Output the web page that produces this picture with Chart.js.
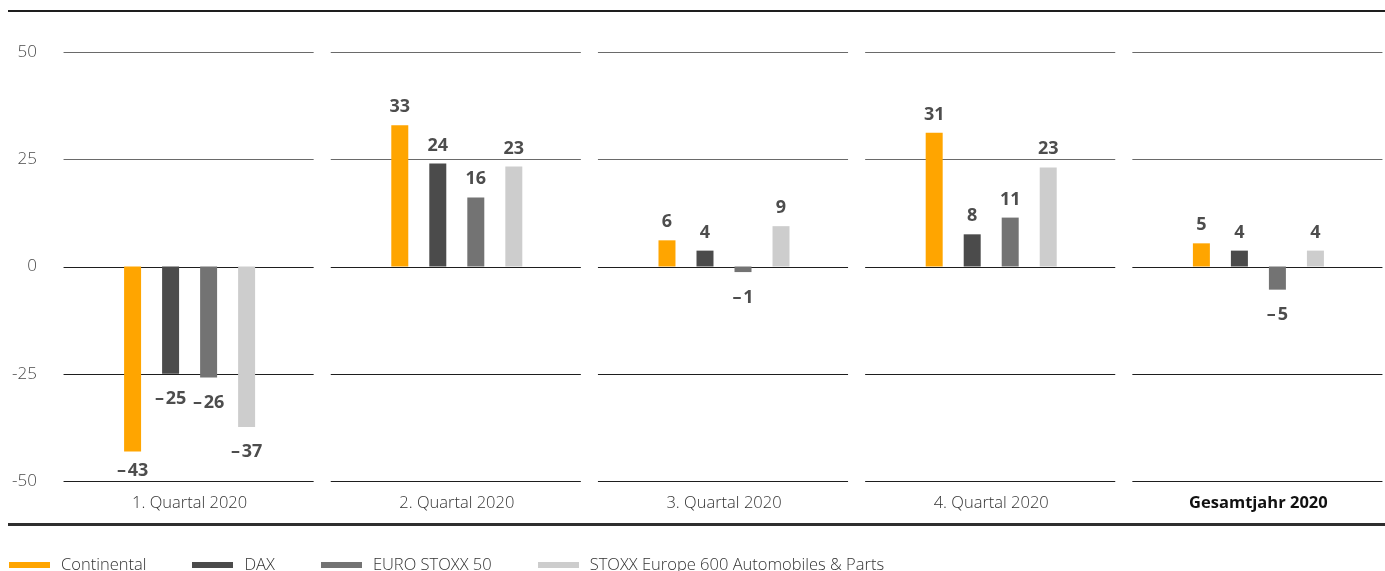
<!DOCTYPE html>
<html>
<head>
<meta charset="utf-8">
<script src="https://cdn.jsdelivr.net/npm/chart.js@4.4.1/dist/chart.umd.min.js"></script>
<style>
  html, body { margin:0; padding:0; background:#fff; overflow:hidden; width:1385px; height:571px; }
  #wrap { position:absolute; left:0; top:0; width:1392px; height:571px; }
  #topRule { position:absolute; left:8px; top:10px; width:1385px; height:2px; background:#1e1e1e; }
  #bottomRule { position:absolute; left:8px; top:523px; width:1385px; height:3px; background:#2e2e2e; }
  #legend { position:absolute; left:9px; top:552px; display:flex; align-items:baseline;
            font-family:"Open Sans", sans-serif; font-weight:300; font-size:16.5px; color:#333; white-space:nowrap; }
  .item { display:flex; align-items:center; margin-right:46px; }
  .sw { width:41px; height:6px; margin-right:11px; position:relative; top:1px; }
</style>
</head>
<body>
<div id="wrap"><canvas id="c" width="1392" height="571"></canvas></div>
<div id="topRule"></div>
<div id="bottomRule"></div>
<div id="legend"></div>
<script>
const categories = ["1. Quartal 2020", "2. Quartal 2020", "3. Quartal 2020", "4. Quartal 2020", "Gesamtjahr 2020"];
const seriesNames = ["Continental", "DAX", "EURO STOXX 50", "STOXX Europe 600 Automobiles & Parts"];
const continental = [-43.1, 32.9, 6.1, 31.2, 5.4];
const dax = [-25.0, 24.0, 3.7, 7.5, 3.7];
const euroStoxx50 = [-25.9, 16.1, -1.3, 11.4, -5.4];
const stoxxAuto = [-37.4, 23.3, 9.4, 23.1, 3.7];
const yTicks = [-50, -25, 0, 25, 50];
const colors = ["#ffa500", "#4b4b4b", "#737373", "#cdcdcd"];

const seriesValues = [continental, dax, euroStoxx50, stoxxAuto];

// HTML legend
const lg = document.getElementById('legend');
seriesNames.forEach((n, i) => {
  const it = document.createElement('div'); it.className = 'item';
  const sw = document.createElement('span'); sw.className = 'sw'; sw.style.background = colors[i];
  const tx = document.createElement('span'); tx.textContent = n;
  it.appendChild(sw); it.appendChild(tx); lg.appendChild(it);
});

const segmentGrid = {
  id: 'segmentGrid',
  beforeDatasetsDraw(chart) {
    const { ctx, scales: { x, y } } = chart;
    const catW = (x.getPixelForValue(1) - x.getPixelForValue(0));
    const half = catW * 0.468;
    ctx.save();
    ctx.lineWidth = 1;
    yTicks.forEach(v => {
      const py = Math.round(y.getPixelForValue(v)) + 0.5;
      ctx.strokeStyle = v > 0 ? '#6a6a6a' : '#1e1e1e';
      categories.forEach((c, i) => {
        const cx = x.getPixelForValue(i);
        ctx.beginPath();
        ctx.moveTo(cx - half - 1, py);
        ctx.lineTo(cx + half - 1, py);
        ctx.stroke();
      });
    });
    ctx.restore();
  }
};

const valueLabels = {
  id: 'valueLabels',
  afterDatasetsDraw(chart) {
    const { ctx, chartArea } = chart;
    ctx.save();
    ctx.font = 'bold 18px "Open Sans", sans-serif';
    ctx.fillStyle = '#4d4d4d';
    ctx.textAlign = 'center';
    ctx.textBaseline = 'alphabetic';
    chart.data.datasets.forEach((ds, di) => {
      const meta = chart.getDatasetMeta(di);
      meta.data.forEach((bar, i) => {
        const v = ds.data[i];
        const r = Math.round(Math.abs(v));
        let txt, by;
        if (v >= 0) { txt = String(r); by = bar.y - 13; }
        else { txt = '\u2013\u200A' + r; by = Math.min(bar.y + 30.5, chartArea.bottom - 5); }
        ctx.fillText(txt, bar.x, by);
      });
    });
    ctx.restore();
  }
};

new Chart(document.getElementById('c'), {
  type: 'bar',
  data: {
    labels: categories,
    datasets: seriesNames.map((n, i) => ({
      label: n,
      data: seriesValues[i],
      backgroundColor: colors[i],
      borderWidth: 0,
      barPercentage: 0.447,
      categoryPercentage: 0.569
    }))
  },
  options: {
    responsive: false,
    animation: false,
    devicePixelRatio: 1,
    layout: { padding: { top: 52, left: 0, right: 0, bottom: 0 } },
    plugins: { legend: { display: false }, tooltip: { enabled: false }, title: { display: false } },
    scales: {
      x: {
        grid: { display: false, drawTicks: false },
        border: { display: false },
        afterFit(s) { s.height = 90; },
        ticks: {
          padding: 12,
          maxRotation: 0,
          autoSkip: false,
          color: (c) => c.index === 4 ? '#111' : '#333',
          font: (c) => c.index === 4
            ? { family: '"Open Sans", sans-serif', size: 16.5, weight: 'bold' }
            : { family: '"Open Sans", sans-serif', size: 16.5, weight: 300 }
        }
      },
      y: {
        min: -50, max: 50,
        afterFit(s) { s.width = 56; },
        afterBuildTicks(s) { s.ticks = yTicks.map(v => ({ value: v })); },
        grid: { display: false, drawTicks: false },
        border: { display: false },
        ticks: {
          padding: 19,
          color: '#4a4a4a',
          font: { family: '"Open Sans", sans-serif', size: 17, weight: 300 },
          callback: (v) => String(v)
        }
      }
    }
  },
  plugins: [segmentGrid, valueLabels]
});
</script>
</body>
</html>
